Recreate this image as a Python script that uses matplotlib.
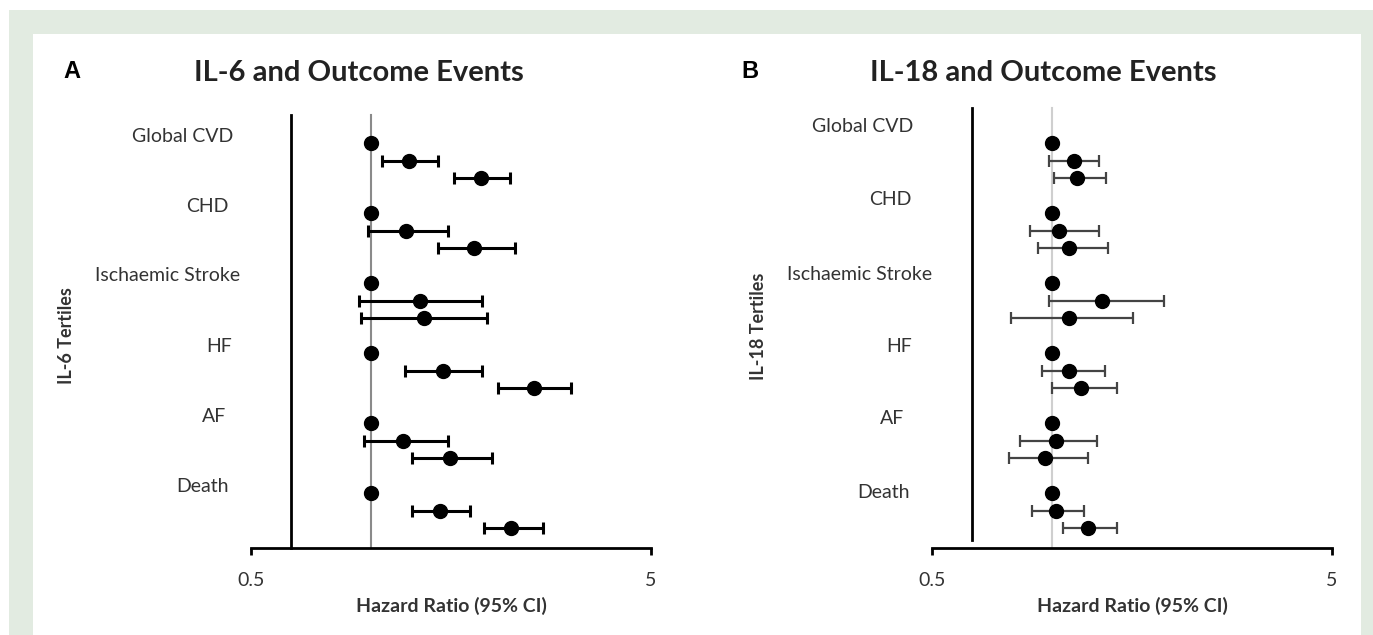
import matplotlib
matplotlib.use("Agg")
import matplotlib.pyplot as plt
import numpy as np

plt.rcParams["font.family"] = ["Lato", "DejaVu Sans"]

W, H = 1373, 635

outcomes = ["Global CVD", "CHD", "Ischaemic Stroke", "HF", "AF", "Death"]

# IL-6 tertiles (tertile 1 is the referent, HR = 1)
il6_t1_hr = [1.00, 1.00, 1.00, 1.00, 1.00, 1.00]
il6_t2_hr = [1.24, 1.22, 1.32, 1.51, 1.20, 1.48]
il6_t2_lo = [1.06, 0.98, 0.93, 1.21, 0.96, 1.26]
il6_t2_hi = [1.47, 1.55, 1.89, 1.89, 1.55, 1.76]
il6_t3_hr = [1.88, 1.80, 1.35, 2.55, 1.57, 2.23]
il6_t3_lo = [1.61, 1.47, 0.94, 2.07, 1.26, 1.91]
il6_t3_hi = [2.22, 2.29, 1.95, 3.15, 2.00, 2.69]

# IL-18 tertiles
il18_t1_hr = [1.00, 1.00, 1.00, 1.00, 1.00, 1.00]
il18_t2_hr = [1.13, 1.04, 1.33, 1.10, 1.02, 1.02]
il18_t2_lo = [0.98, 0.88, 0.98, 0.94, 0.83, 0.89]
il18_t2_hi = [1.31, 1.31, 1.90, 1.35, 1.29, 1.20]
il18_t3_hr = [1.15, 1.10, 1.10, 1.18, 0.96, 1.23]
il18_t3_lo = [1.01, 0.92, 0.79, 1.00, 0.78, 1.06]
il18_t3_hi = [1.36, 1.38, 1.59, 1.45, 1.23, 1.45]

x_ticks = [0.5, 5]
x_tick_labels = ["0.5", "5"]

panels = [
    dict(letter="A", title="IL-6 and Outcome Events", ylabel="IL-6 Tertiles",
         t1=il6_t1_hr, t2=(il6_t2_hr, il6_t2_lo, il6_t2_hi),
         t3=(il6_t3_hr, il6_t3_lo, il6_t3_hi),
         left=251, letter_x=63, title_x=359, ylabel_x=67, ylabel_y=336,
         lab_x=[233, 229, 240, 232, 226, 229],
         lab_y=[136, 207, 276, 347, 416, 487],
         ci_color="black", ci_lw=2.2, ref_color="#8a8a8a",
         vline=(115, 548)),
    dict(letter="B", title="IL-18 and Outcome Events", ylabel="IL-18 Tertiles",
         t1=il18_t1_hr, t2=(il18_t2_hr, il18_t2_lo, il18_t2_hi),
         t3=(il18_t3_hr, il18_t3_lo, il18_t3_hi),
         left=932, letter_x=741, title_x=1043, ylabel_x=758, ylabel_y=326,
         lab_x=[913, 911, 932, 912, 904, 910],
         lab_y=[127, 199, 274, 347, 418, 493],
         ci_color="#444444", ci_lw=1.6, ref_color="#cfcfcf",
         vline=(108, 540)),
]

fig = plt.figure(figsize=(W / 100, H / 100), dpi=100)
fig.patch.set_facecolor("white")

# light green frame around the white panel
fig.patches.append(plt.Rectangle((9 / W, 0), 1 - 9 / W, 1 - 10 / H,
                                 transform=fig.transFigure,
                                 facecolor="#e2ebe1", edgecolor="none", zorder=-2))
fig.patches.append(plt.Rectangle((33 / W, 0), (1361 - 33) / W, 1 - 34 / H,
                                 transform=fig.transFigure,
                                 facecolor="white", edgecolor="none", zorder=-1))

row0, step = 143, 17.5
top_px, bot_px = 100, 548


def px_to_row(y):
    return (y - row0) / step


for p in panels:
    ax = fig.add_axes([p["left"] / W, 1 - bot_px / H, 400 / W, (bot_px - top_px) / H])
    ax.set_xscale("log")
    ax.set_xlim(0.5, 5)
    ax.set_ylim(px_to_row(bot_px), px_to_row(top_px))
    ax.patch.set_alpha(0)

    n = len(outcomes)
    y1 = np.arange(n) * 4
    y2 = y1 + 1
    y3 = y1 + 2

    ref_top = px_to_row(p["vline"][0])
    ax.plot([1, 1], [ref_top, px_to_row(bot_px)], color=p["ref_color"], lw=1.5,
            zorder=1, clip_on=False)
    ax.plot([0.63, 0.63], [ref_top, px_to_row(p["vline"][1])], color="black", lw=2,
            zorder=1, clip_on=False)

    ax.plot(p["t1"], y1, "o", color="black", ms=10, zorder=3)
    for (hr, lo, hi), yy in ((p["t2"], y2), (p["t3"], y3)):
        hr = np.array(hr)
        err = [hr - np.array(lo), np.array(hi) - hr]
        ax.errorbar(hr, yy, xerr=err, fmt="o", color="black", ms=10,
                    ecolor=p["ci_color"], elinewidth=p["ci_lw"], capsize=4,
                    capthick=p["ci_lw"], zorder=3)

    for s in ["top", "right", "left"]:
        ax.spines[s].set_visible(False)
    ax.spines["bottom"].set_linewidth(2)
    ax.set_yticks([])
    ax.set_xticks(x_ticks)
    ax.set_xticklabels(x_tick_labels, fontsize=14, color="#333333")
    ax.xaxis.set_minor_locator(matplotlib.ticker.NullLocator())
    ax.tick_params(axis="x", direction="out", length=5, width=2, pad=12)
    ax.set_xlabel("Hazard Ratio (95% CI)", fontsize=14, fontweight="bold",
                  color="#333333", labelpad=6)

    for name, lx, ly in zip(outcomes, p["lab_x"], p["lab_y"]):
        fig.text(lx / W, 1 - ly / H, name, ha="right", va="center",
                 fontsize=14, color="#333333")

    fig.text(p["letter_x"] / W, 1 - 72 / H, p["letter"], ha="left", va="center",
             fontsize=17, fontweight="bold", family=["Liberation Sans", "DejaVu Sans"])
    fig.text(p["title_x"] / W, 1 - 73 / H, p["title"], ha="center", va="center",
             fontsize=21, fontweight="bold", color="#222222")
    fig.text(p["ylabel_x"] / W, 1 - p["ylabel_y"] / H, p["ylabel"], ha="center",
             va="center", rotation=90, fontsize=13, fontweight="bold", color="#333333")

fig.savefig("out.png", dpi=100)
